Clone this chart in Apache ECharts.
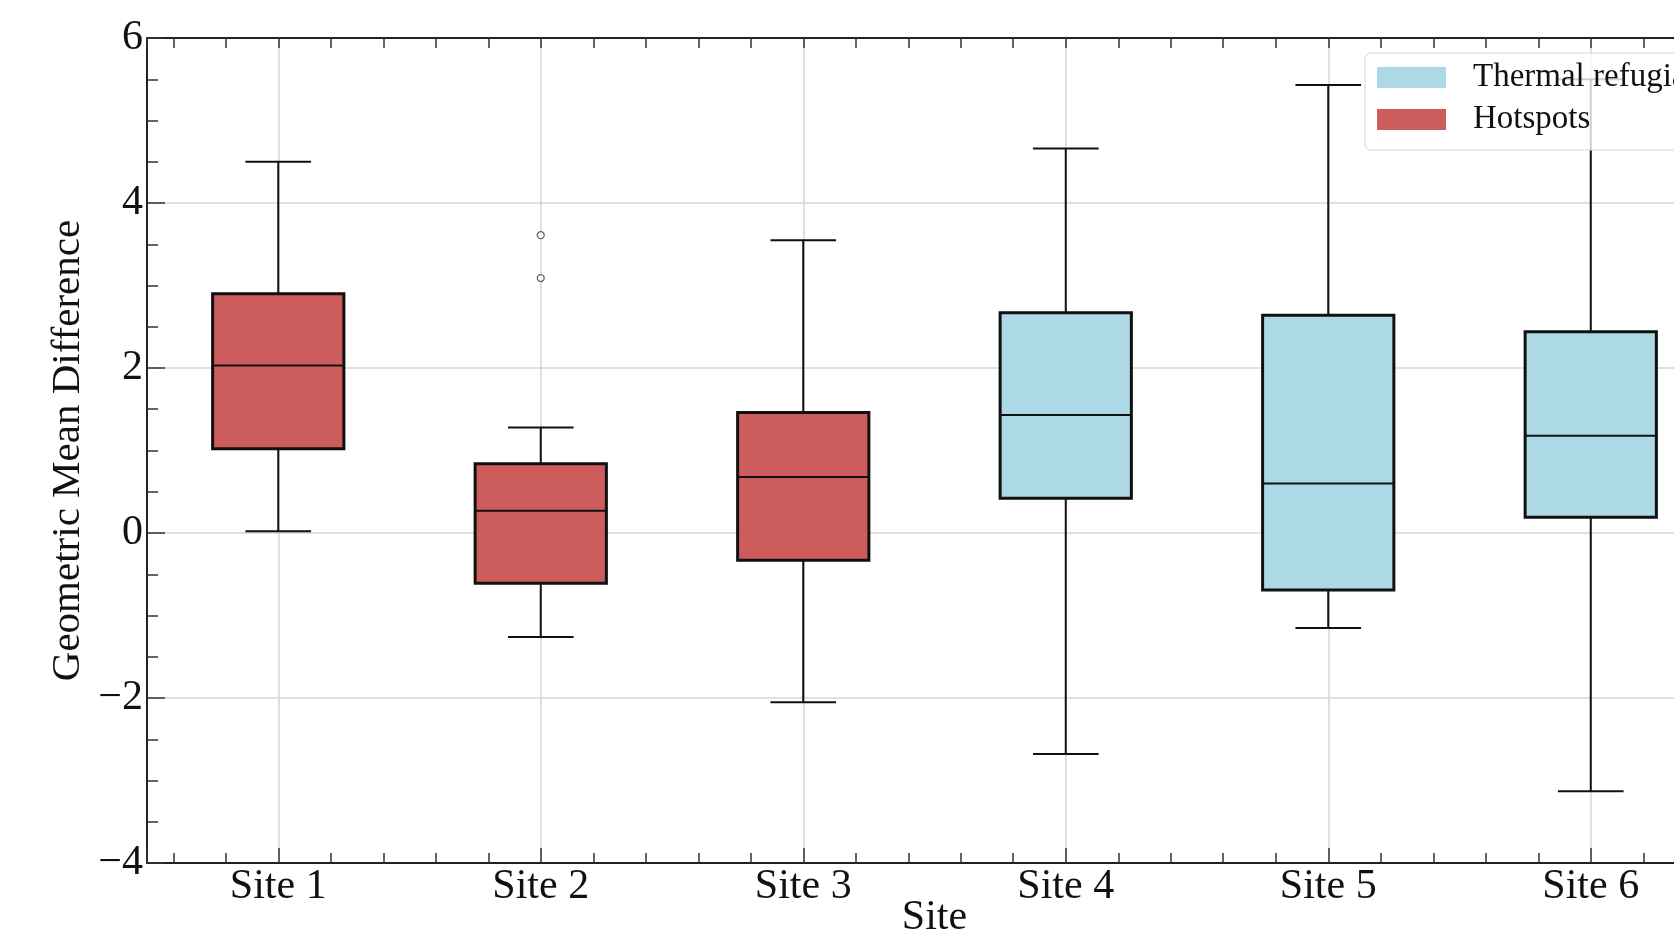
<!DOCTYPE html>
<html>
<head>
<meta charset="utf-8">
<script src="https://cdn.jsdelivr.net/npm/echarts@6/dist/echarts.min.js"></script>
<style>
  html, body { margin: 0; padding: 0; background: #ffffff; }
  #chart { width: 1674px; height: 936px; }
</style>
</head>
<body>
<div id="chart"></div>
<script>
// ---- Data ----
const sites = ['Site 1', 'Site 2', 'Site 3', 'Site 4', 'Site 5', 'Site 6'];
const siteGroup = ['Hotspots', 'Hotspots', 'Hotspots', 'Thermal refugia', 'Thermal refugia', 'Thermal refugia'];
const whiskerLow  = [0.02, -1.26, -2.05, -2.68, -1.15, -3.13];
const quartile1   = [1.02, -0.61, -0.33, 0.42, -0.69, 0.19];
const medianVal   = [2.03, 0.27, 0.68, 1.43, 0.60, 1.18];
const quartile3   = [2.90, 0.84, 1.46, 2.67, 2.64, 2.44];
const whiskerHigh = [4.50, 1.28, 3.55, 4.66, 5.43, 5.50];
const outlierSite  = ['Site 2', 'Site 2'];
const outlierValue = [3.61, 3.09];
const yTicks = [-4, -2, 0, 2, 4, 6];
const legendNames = ['Thermal refugia', 'Hotspots'];

const FONT = 'Liberation Serif, Times New Roman, serif';
const groupColor = { 'Thermal refugia': '#ADD8E6', 'Hotspots': '#CD5C5C' };

function boxData(group) {
  const out = [];
  sites.forEach((s, i) => {
    if (siteGroup[i] === group) {
      out.push([i, whiskerLow[i], quartile1[i], medianVal[i], quartile3[i], whiskerHigh[i]]);
    }
  });
  return out;
}

function renderBox(params, api) {
  const x = api.value(0);
  const p = v => api.coord([x, v]);
  const band = api.size([1, 0])[0];
  const half = band * 0.25;
  const capHalf = band * 0.125;
  const lo = p(api.value(1)), b1 = p(api.value(2)), m = p(api.value(3)), b3 = p(api.value(4)), hi = p(api.value(5));
  const cx = lo[0];
  const fill = api.visual('color');
  const ln = (x1, y1, x2, y2, w) => ({ type: 'line', shape: { x1, y1, x2, y2 }, style: { stroke: '#111', lineWidth: w } });
  return {
    type: 'group',
    children: [
      ln(cx, hi[1], cx, b3[1], 2),
      ln(cx, b1[1], cx, lo[1], 2),
      ln(cx - capHalf, hi[1], cx + capHalf, hi[1], 2),
      ln(cx - capHalf, lo[1], cx + capHalf, lo[1], 2),
      { type: 'rect', shape: { x: cx - half, y: b3[1], width: 2 * half, height: b1[1] - b3[1] },
        style: { fill: fill, stroke: '#111', lineWidth: 3 } },
      ln(cx - half, m[1], cx + half, m[1], 2)
    ]
  };
}

const isInt = v => Math.abs(v - Math.round(v)) < 1e-6;

const chart = echarts.init(document.getElementById('chart'), null, { renderer: 'canvas' });
const axisCommon = {
  type: 'value', min: -0.5, max: 5.5,
  axisLine: { onZero: false }
};
chart.setOption({
  backgroundColor: '#ffffff',
  animation: false,
  grid: { left: 147, top: 38, width: 1575, height: 825, containLabel: false, outerBoundsMode: 'none' },
  xAxis: [
    Object.assign({}, axisCommon, {
      position: 'bottom', splitNumber: 6,
      axisLine: { show: true, onZero: false, lineStyle: { color: '#222', width: 2 } },
      axisTick: { show: true, inside: true, length: 15, lineStyle: { color: '#333', width: 1.5 } },
      axisLabel: {
        margin: 3, fontFamily: FONT, fontSize: 42, color: '#111',
        formatter: v => (isInt(v) && Math.round(v) >= 0 && Math.round(v) < sites.length) ? sites[Math.round(v)] : ''
      },
      splitLine: { show: true, lineStyle: { color: '#d6d6d6', width: 1.5 } },
      name: 'Site', nameLocation: 'middle', nameGap: 34, nameMoveOverlap: false,
      nameTextStyle: { fontFamily: FONT, fontSize: 42, color: '#111' }
    }),
    Object.assign({}, axisCommon, {
      position: 'bottom', splitNumber: 30,
      axisLine: { show: false, onZero: false },
      axisTick: { show: true, inside: true, length: 10, lineStyle: { color: '#333', width: 1.5 } },
      axisLabel: { show: false },
      splitLine: { show: false }
    }),
    Object.assign({}, axisCommon, {
      position: 'top', splitNumber: 30,
      axisLine: { show: true, onZero: false, lineStyle: { color: '#222', width: 2 } },
      axisTick: { show: true, inside: true, length: 10, lineStyle: { color: '#333', width: 1.5 } },
      axisLabel: { show: false },
      splitLine: { show: false }
    })
  ],
  yAxis: {
    type: 'value', min: yTicks[0], max: yTicks[yTicks.length - 1], interval: 2,
    axisLine: { show: true, onZero: false, lineStyle: { color: '#222', width: 2 } },
    axisTick: { show: true, inside: true, length: 18, lineStyle: { color: '#333', width: 1.5 } },
    minorTick: { show: true, splitNumber: 4, length: 11, lineStyle: { color: '#333', width: 1.5 } },
    axisLabel: {
      margin: 4, fontFamily: FONT, fontSize: 42, color: '#111',
      formatter: v => (v < 0 ? '\u2212' + Math.abs(v) : String(v))
    },
    splitLine: { show: true, lineStyle: { color: '#d6d6d6', width: 1.5 } },
    name: 'Geometric Mean Difference', nameLocation: 'middle', nameGap: 58, nameMoveOverlap: false,
    nameTextStyle: { fontFamily: FONT, fontSize: 41, color: '#111' }
  },
  legend: {
    data: legendNames,
    orient: 'vertical', left: 1365, top: 53,
    itemWidth: 69, itemHeight: 21, itemGap: 9,
    icon: 'rect',
    itemStyle: { borderWidth: 0 },
    textStyle: { fontFamily: FONT, fontSize: 33, color: '#111', padding: [0, 0, 0, 22] },
    padding: [8, 80, 14, 12],
    backgroundColor: 'rgba(255,255,255,0.8)',
    borderColor: '#d4d4d4', borderWidth: 1, borderRadius: 6,
    z: 10
  },
  series: [
    {
      name: 'Hotspots', type: 'custom', xAxisIndex: 0, renderItem: renderBox,
      itemStyle: { color: groupColor['Hotspots'] },
      encode: { x: 0, y: [1, 2, 3, 4, 5] },
      data: boxData('Hotspots'), z: 3
    },
    {
      name: 'Thermal refugia', type: 'custom', xAxisIndex: 0, renderItem: renderBox,
      itemStyle: { color: groupColor['Thermal refugia'] },
      encode: { x: 0, y: [1, 2, 3, 4, 5] },
      data: boxData('Thermal refugia'), z: 3
    },
    {
      name: 'outliers', type: 'scatter', xAxisIndex: 0,
      symbol: 'circle', symbolSize: 7,
      itemStyle: { color: '#ffffff', borderColor: '#444', borderWidth: 1.3 },
      data: outlierSite.map((s, i) => [sites.indexOf(s), outlierValue[i]]), z: 4
    }
  ]
});
</script>
</body>
</html>
